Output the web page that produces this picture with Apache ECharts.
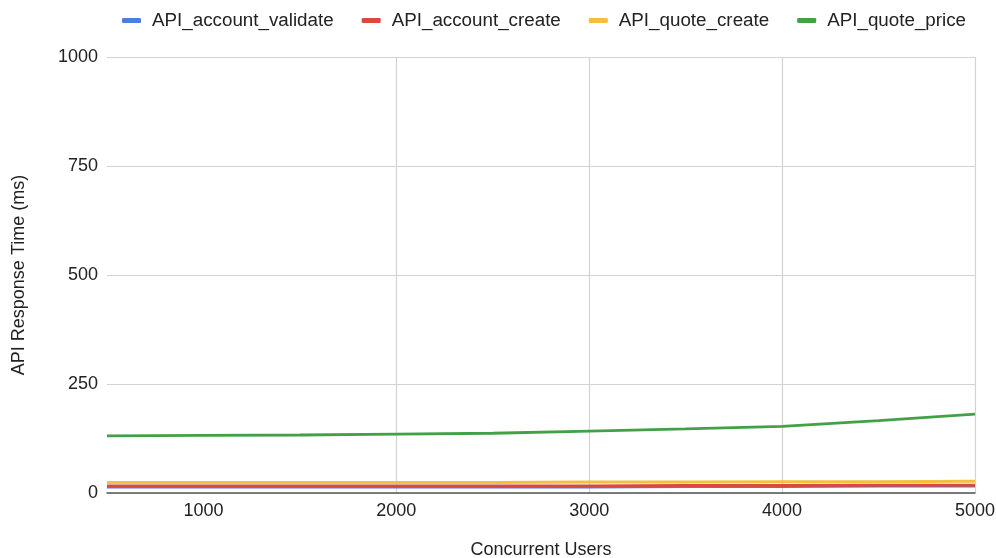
<!DOCTYPE html>
<html>
<head>
<meta charset="utf-8">
<script src="https://cdn.jsdelivr.net/npm/echarts@6/dist/echarts.min.js"></script>
<style>
  html, body { margin: 0; padding: 0; background: #fff; width: 100%; height: 100%; overflow: hidden; }
  #chart { position: absolute; left: 0; top: 0; width: 996px; height: 558px; }
</style>
</head>
<body>
<div id="chart"></div>
<script>
// Concurrent user levels sampled in the load test
const users = [500, 1000, 1500, 2000, 2500, 3000, 3500, 4000, 4500, 5000];
const xTicks = [1000, 2000, 3000, 4000, 5000];

// Mean response time per endpoint (ms)
const accountValidate = [14, 14, 14, 14, 14, 14, 15, 15, 16, 16];
const accountCreate   = [16, 16, 16, 16, 16, 16, 17, 17, 18, 18];
const quoteCreate     = [24, 24, 24, 24, 24, 25, 25, 26, 26, 27];
const quotePrice      = [131, 132, 133, 135, 137, 142, 147, 153, 166, 181];

const seriesNames = ['API_account_validate', 'API_account_create', 'API_quote_create', 'API_quote_price'];
const yTicks = [0, 250, 500, 750, 1000];

const colors = ['#4a7fe0', '#d9493f', '#f4bf3c', '#43a047'];
const valueSets = [accountValidate, accountCreate, quoteCreate, quotePrice];

const FONT = '"Liberation Sans", Arial, sans-serif';

const chart = echarts.init(document.getElementById('chart'), null, { width: 996, height: 558 });
chart.setOption({
  animation: false,
  color: colors,
  textStyle: { fontFamily: FONT },
  legend: {
    top: 6,
    left: 122,
    padding: [5, 0, 5, 0],
    icon: 'roundRect',
    itemWidth: 19,
    itemHeight: 5,
    itemGap: 28,
    textStyle: { fontFamily: FONT, fontSize: 18.8, color: '#222', padding: [0, 0, 0, 6] },
    data: seriesNames
  },
  grid: { left: 107, right: 21, top: 57, bottom: 65, containLabel: false, outerBoundsMode: 'none' },
  xAxis: {
    type: 'value',
    min: users[0],
    max: users[users.length - 1],
    name: 'Concurrent Users',
    nameLocation: 'middle',
    nameGap: 48,
    nameTextStyle: { fontFamily: FONT, fontSize: 18, color: '#222' },
    axisLine: { show: true, lineStyle: { color: '#555', width: 1.5 } },
    axisTick: { show: false, customValues: xTicks },
    axisLabel: {
      fontFamily: FONT, fontSize: 18, color: '#222', margin: 9,
      customValues: xTicks,
      formatter: v => String(v)
    },
    splitLine: { show: true, showMinLine: false, lineStyle: { color: '#d3d3d3', width: 1.2 } }
  },
  yAxis: {
    type: 'value',
    min: yTicks[0],
    max: yTicks[yTicks.length - 1],
    interval: yTicks[1] - yTicks[0],
    name: 'API Response Time (ms)',
    nameLocation: 'middle',
    nameGap: 79,
    nameTextStyle: { fontFamily: FONT, fontSize: 18, color: '#222' },
    axisLine: { show: false },
    axisTick: { show: false },
    axisLabel: { fontFamily: FONT, fontSize: 18, color: '#222', margin: 9, formatter: v => String(v) },
    splitLine: { show: true, lineStyle: { color: '#d3d3d3', width: 1.2 } }
  },
  series: seriesNames.map((name, i) => ({
    name,
    type: 'line',
    showSymbol: false,
    symbol: 'none',
    lineStyle: { width: i === 3 ? 2.8 : 3 },
    data: users.map((u, k) => [u, valueSets[i][k]])
  }))
});
</script>
</body>
</html>
